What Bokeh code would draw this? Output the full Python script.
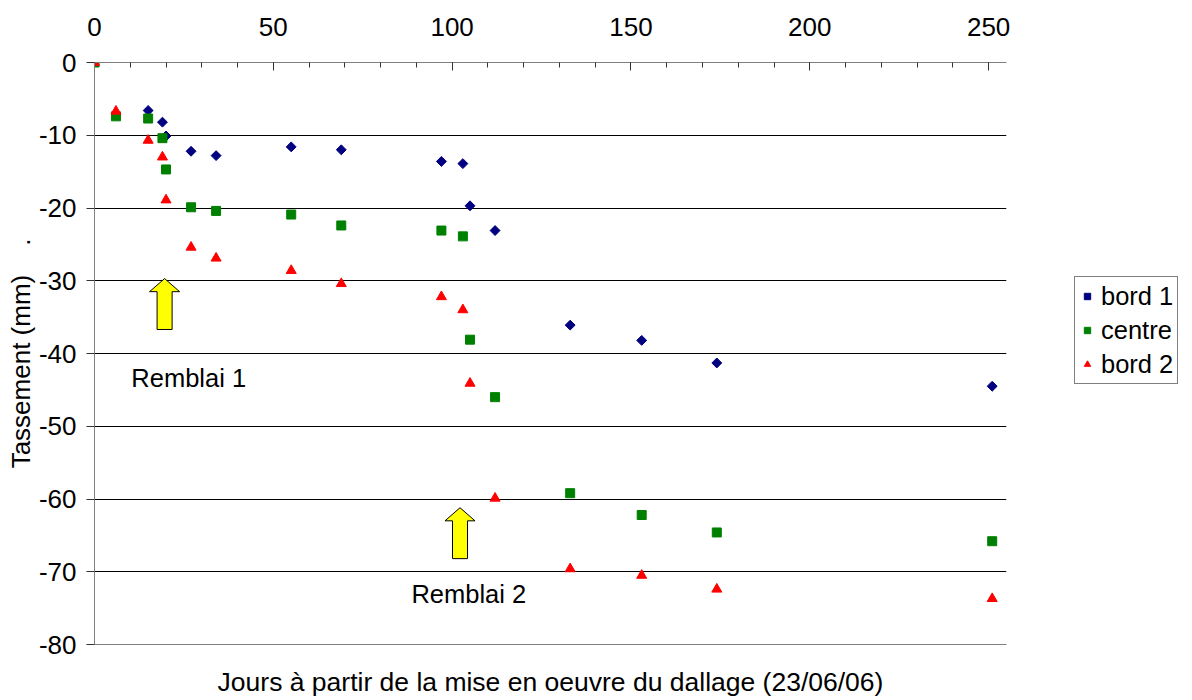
import math
from bokeh.plotting import figure
from bokeh.models import (Range1d, LinearAxis, FixedTicker, SingleIntervalTicker,
                          Legend, LegendItem, Label, NumeralTickFormatter)
from bokeh.embed import file_html
from bokeh.resources import INLINE

# ---- data ----
days_b1 = [0, 15, 19, 20, 27, 34, 55, 69, 97, 103, 105, 112, 133, 153, 174, 251]
bord1 = [0, -6.6, -8.2, -10.1, -12.2, -12.8, -11.6, -12.0, -13.6, -13.9,
         -19.7, -23.1, -36.1, -38.2, -41.3, -44.5]
days = [0, 6, 15, 19, 20, 27, 34, 55, 69, 97, 103, 105, 112, 133, 153, 174, 251]
centre = [0, -7.4, -7.7, -10.4, -14.7, -19.9, -20.4, -20.9, -22.4, -23.1,
          -23.9, -38.1, -46.0, -59.2, -62.2, -64.6, -65.8]
bord2 = [0, -6.7, -10.7, -13.0, -18.9, -25.4, -26.9, -28.6, -30.4, -32.2,
         -34.0, -44.1, -59.9, -69.6, -70.5, -72.4, -73.7]
y_ticks = [0, -10, -20, -30, -40, -50, -60, -70, -80]
series_names = ["bord 1", "centre", "bord 2"]
arrow_tips = [(19.6, -29.7), (102.2, -61.2)]
arrow_texts = ["Remblai 1", "Remblai 2"]
text_pos = [(10.3, -43.4), (88.6, -73.1)]

FONT = "Liberation Sans"

p = figure(frame_width=912, frame_height=582,
           x_range=Range1d(0, 255), y_range=Range1d(-80, 0),
           output_backend="svg", toolbar_location=None,
           x_axis_location=None, y_axis_location="left",
           min_border_left=94, min_border_right=186,
           min_border_top=62, min_border_bottom=56)
p.outline_line_color = None
p.background_fill_color = "white"
p.border_fill_color = "white"

# top x axis
xa = LinearAxis(ticker=SingleIntervalTicker(interval=50, num_minor_ticks=5))
xa.axis_line_color = "#808080"
xa.major_tick_in = 8
xa.major_tick_out = 0
xa.minor_tick_in = 5
xa.minor_tick_out = 0
xa.major_tick_line_color = "#333333"
xa.minor_tick_line_color = "#333333"
xa.major_label_standoff = 27
xa.major_label_text_font = FONT
xa.major_label_text_font_size = "26px"
xa.major_label_text_color = "black"
p.add_layout(xa, "above")

# bottom axis: frame bottom line + title only
xb = LinearAxis(ticker=FixedTicker(ticks=[]))
xb.axis_line_color = "#808080"
xb.major_tick_line_color = None
xb.minor_tick_line_color = None
xb.axis_label = "Jours à partir de la mise en oeuvre du dallage (23/06/06)"
xb.axis_label_text_font = FONT
xb.axis_label_text_font_size = "26.5px"
xb.axis_label_text_font_style = "normal"
xb.axis_label_text_color = "black"
xb.axis_label_standoff = 22
p.add_layout(xb, "below")

# y axis
ya = p.yaxis[0]
ya.ticker = FixedTicker(ticks=y_ticks)
ya.formatter = NumeralTickFormatter(format="0")
ya.axis_line_color = "#808080"
ya.major_tick_out = 8
ya.major_tick_in = 0
ya.minor_tick_line_color = None
ya.major_tick_line_color = "#333333"
ya.major_label_standoff = 10
ya.major_label_text_font = FONT
ya.major_label_text_font_size = "26px"
ya.major_label_text_color = "black"
ya.axis_label = "Tassement (mm)" + "\u00a0" * 4 + "."
ya.axis_label_text_font = FONT
ya.axis_label_text_font_size = "26px"
ya.axis_label_text_font_style = "normal"
ya.axis_label_text_color = "black"
ya.axis_label_standoff = 0

p.xgrid.grid_line_color = None
p.ygrid.ticker = FixedTicker(ticks=y_ticks)
p.ygrid.grid_line_color = "black"
p.ygrid.grid_line_width = 1

# arrows (block arrows)
HEAD_HW, SHAFT_HW, HEAD_LEN, TOTAL = 4.2, 2.1, 1.8, 7.0
for (tx, ty) in arrow_tips:
    xs = [tx, tx + HEAD_HW, tx + SHAFT_HW, tx + SHAFT_HW, tx - SHAFT_HW, tx - SHAFT_HW, tx - HEAD_HW]
    ys = [ty, ty - HEAD_LEN, ty - HEAD_LEN, ty - TOTAL, ty - TOTAL, ty - HEAD_LEN, ty - HEAD_LEN]
    p.patch(xs, ys, fill_color="#FFFF00", line_color="black", line_width=1)

for (lx, ly), t in zip(text_pos, arrow_texts):
    p.add_layout(Label(x=lx, y=ly, text=t, text_font=FONT, text_font_size="25.5px",
                       text_baseline="middle", text_align="left", text_color="black"))

r1 = p.scatter(days_b1, bord1, marker="square", angle=math.pi / 4, size=7,
               fill_color="#000080", line_color="#000080")
r2 = p.scatter(days, centre, marker="square", size=9,
               fill_color="#008000", line_color="#008000")
r3 = p.scatter(days, bord2, marker="triangle", size=10,
               fill_color="#FF0000", line_color="#FF0000")

legend = Legend(items=[LegendItem(label=n, renderers=[r]) for n, r in zip(series_names, [r1, r2, r3])],
                location=(68, 260))
legend.label_text_font = FONT
legend.label_text_font_size = "25.5px"
legend.label_text_color = "black"
legend.border_line_color = "black"
legend.border_line_width = 1
legend.background_fill_color = "white"
legend.background_fill_alpha = 1
legend.padding = 4
legend.spacing = 4
legend.margin = 0
legend.label_height = 30
legend.glyph_width = 16
legend.glyph_height = 16
legend.label_standoff = 6
p.add_layout(legend, "right")

open("out.html", "w").write(file_html(p, INLINE))
